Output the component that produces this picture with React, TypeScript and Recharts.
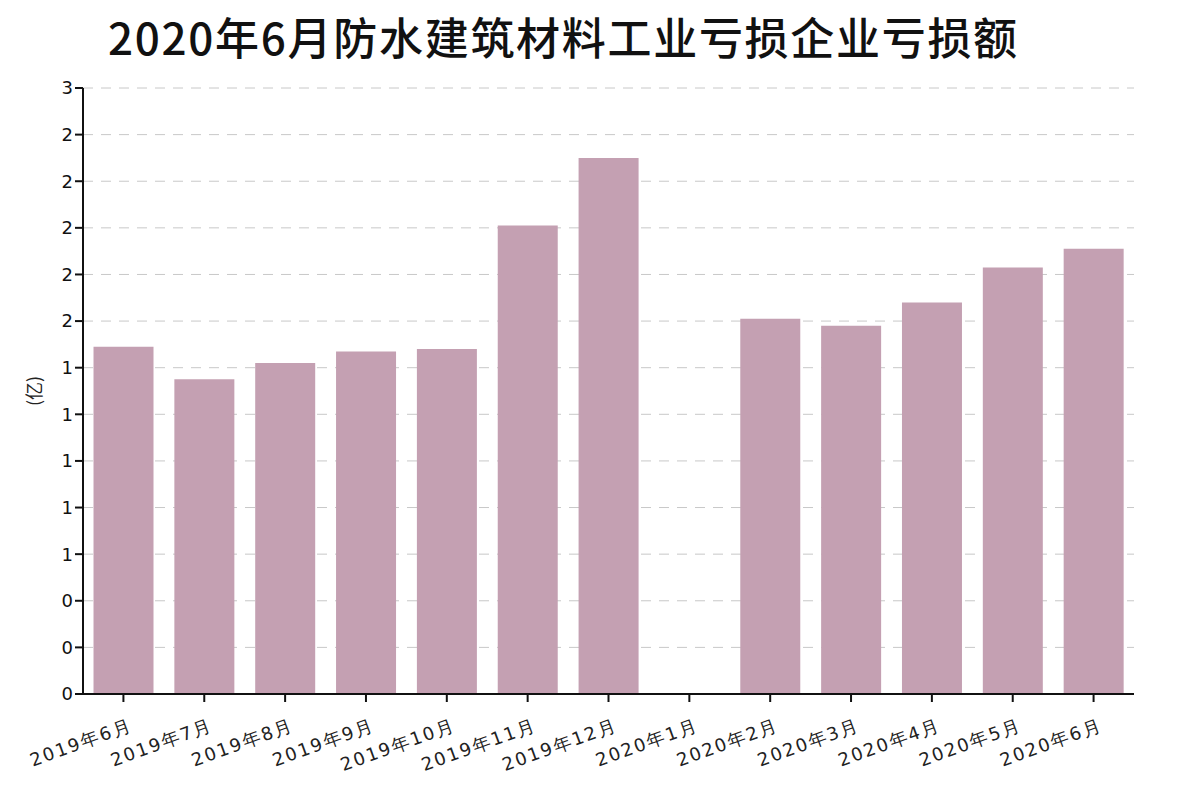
import { BarChart, Bar, XAxis, YAxis, CartesianGrid } from "recharts";

const months = [
  "2019年6月",
  "2019年7月",
  "2019年8月",
  "2019年9月",
  "2019年10月",
  "2019年11月",
  "2019年12月",
  "2020年1月",
  "2020年2月",
  "2020年3月",
  "2020年4月",
  "2020年5月",
  "2020年6月",
];
const losses: (number | null)[] = [
  1.49, 1.35, 1.42, 1.47, 1.48, 2.01, 2.3, null, 1.61, 1.58, 1.68, 1.83, 1.91,
];
const yTicks = [0, 0.2, 0.4, 0.6, 0.8, 1, 1.2, 1.4, 1.6, 1.8, 2, 2.2, 2.4, 2.6];

const data = months.map((m, i) => ({ month: m, value: losses[i] }));

function MonthTick(props: any) {
  const { x, y, payload } = props;
  const ax = x + 10;
  const ay = y + 26;
  return (
    <text
      x={ax}
      y={ay}
      transform={`rotate(-20, ${ax}, ${ay})`}
      textAnchor="end"
      fontSize={18}
      letterSpacing={2}
      fontFamily="'DejaVu Sans', sans-serif"
      fill="#222"
    >
      {payload.value}
    </text>
  );
}

export default function App() {
  return (
    <div style={{ position: "absolute", left: 0, top: 0, width: 1180, height: 790, background: "#fff" }}>
      <div
        style={{
          position: "absolute",
          left: 108,
          top: 8,
          fontSize: 44,
          fontWeight: 500,
          letterSpacing: 1.7,
          fontFamily: "'Noto Sans CJK SC', sans-serif",
          color: "#111",
          whiteSpace: "nowrap",
          lineHeight: "56px",
        }}
      >
        2020年6月防水建筑材料工业亏损企业亏损额
      </div>
      <div
        style={{
          position: "absolute",
          left: 18,
          top: 378,
          transform: "rotate(-90deg)",
          transformOrigin: "center",
          fontSize: 18,
          fontFamily: "'Noto Sans CJK SC', sans-serif",
          color: "#222",
        }}
      >
        (亿)
      </div>
      <BarChart
        width={1180}
        height={790}
        data={data}
        margin={{ top: 88, right: 46, bottom: 0, left: 33 }}
        barCategoryGap="13%"
      >
        <CartesianGrid vertical={false} stroke="#c8c8c8" strokeDasharray="10 8" />
        <XAxis
          dataKey="month"
          interval={0}
          tick={<MonthTick />}
          axisLine={{ stroke: "#111", strokeWidth: 2 }}
          tickLine={{ stroke: "#111", strokeWidth: 2 }}
          tickSize={8}
          height={96}
        />
        <YAxis
          width={50}
          domain={[0, 2.6]}
          ticks={yTicks}
          interval={0}
          tickFormatter={(v: number) => String(Math.round(v))}
          axisLine={{ stroke: "#111", strokeWidth: 2 }}
          tickLine={{ stroke: "#111", strokeWidth: 2 }}
          tickSize={8}
          tick={{ fontSize: 18, fill: "#111", fontFamily: "'DejaVu Sans', sans-serif" }}
        />
        <Bar dataKey="value" fill="#c4a0b2" isAnimationActive={false} />
      </BarChart>
    </div>
  );
}
